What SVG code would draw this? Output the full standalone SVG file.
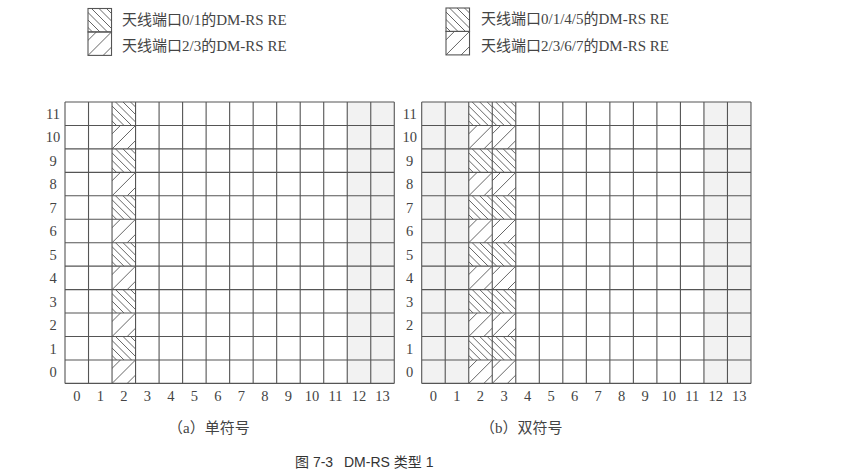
<svg xmlns="http://www.w3.org/2000/svg" xmlns:xlink="http://www.w3.org/1999/xlink" width="845" height="476" viewBox="0 0 845 476">
<style>
.grid{fill:none;stroke:#555;stroke-width:1.1}
.h{stroke:#555;stroke-width:0.9;fill:none}
.shade{fill:#f2f2f2}
.t{font-family:"Liberation Serif","Noto Sans CJK SC",serif;fill:#444}
.num{font-size:14.5px;text-anchor:middle}
.leg{font-size:15px}
.cap{font-family:"Liberation Sans","Noto Sans CJK SC",sans-serif;font-size:14px;fill:#333}
</style>
<defs>
<symbol id="p01" viewBox="0 0 23.52 23.45" width="23.52" height="23.45">
<path class="h" d="M-24,-5L11,30M-16.5,-5L18.5,30M-9,-5L26,30M-1.5,-5L33.5,30M6,-5L41,30M13.5,-5L48.5,30"/>
</symbol>
<symbol id="p23" viewBox="0 0 23.52 23.45" width="23.52" height="23.45">
<path class="h" d="M13.4,-5L-21.6,30M28.5,-5L-6.5,30M43.6,-5L8.6,30"/>
</symbol>
<path id="gridlines" class="grid" d="M0,0V281.4M23.52,0V281.4M47.04,0V281.4M70.56,0V281.4M94.08,0V281.4M117.6,0V281.4M141.12,0V281.4M164.64,0V281.4M188.16,0V281.4M211.68,0V281.4M235.2,0V281.4M258.72,0V281.4M282.24,0V281.4M305.76,0V281.4M329.28,0V281.4M0,0H329.28M0,23.45H329.28M0,46.9H329.28M0,70.35H329.28M0,93.8H329.28M0,117.25H329.28M0,140.7H329.28M0,164.15H329.28M0,187.6H329.28M0,211.05H329.28M0,234.5H329.28M0,257.95H329.28M0,281.4H329.28"/>
<g id="rowlabels" class="t num">
<text x="-12" y="17">11</text><text x="-12" y="40.45">10</text><text x="-12" y="63.9">9</text><text x="-12" y="87.35">8</text><text x="-12" y="110.8">7</text><text x="-12" y="134.25">6</text><text x="-12" y="157.7">5</text><text x="-12" y="181.15">4</text><text x="-12" y="204.6">3</text><text x="-12" y="228.05">2</text><text x="-12" y="251.5">1</text><text x="-12" y="274.95">0</text>
</g>
<g id="collabels" class="t num">
<text x="11.76" y="299">0</text><text x="35.28" y="299">1</text><text x="58.8" y="299">2</text><text x="82.32" y="299">3</text><text x="105.84" y="299">4</text><text x="129.36" y="299">5</text><text x="152.88" y="299">6</text><text x="176.4" y="299">7</text><text x="199.92" y="299">8</text><text x="223.44" y="299">9</text><text x="246.96" y="299">10</text><text x="270.48" y="299">11</text><text x="294" y="299">12</text><text x="317.52" y="299">13</text>
</g>
</defs>

<g id="legend-a">
<use xlink:href="#p01" href="#p01" x="88" y="8.5"/>
<use xlink:href="#p23" href="#p23" x="88" y="31.95"/>
<rect class="grid" x="88" y="8.5" width="23.52" height="23.45"/>
<rect class="grid" x="88" y="31.95" width="23.52" height="23.45"/>
<text class="t leg" x="122" y="24.5">天线端口0/1的DM-RS RE</text>
<text class="t leg" x="122" y="51">天线端口2/3的DM-RS RE</text>
</g>

<g id="legend-b">
<use xlink:href="#p01" href="#p01" x="446" y="8"/>
<use xlink:href="#p23" href="#p23" x="446" y="31.45"/>
<rect class="grid" x="446" y="8" width="23.52" height="23.45"/>
<rect class="grid" x="446" y="31.45" width="23.52" height="23.45"/>
<text class="t leg" x="481" y="24">天线端口0/1/4/5的DM-RS RE</text>
<text class="t leg" x="481" y="50.5">天线端口2/3/6/7的DM-RS RE</text>
</g>

<g id="grid-a" transform="translate(65,102)">
<rect class="shade" x="282.24" y="0" width="47.04" height="281.4"/>
<use href="#p01" xlink:href="#p01" x="47.04" y="0"/>
<use href="#p23" xlink:href="#p23" x="47.04" y="23.45"/>
<use href="#p01" xlink:href="#p01" x="47.04" y="46.9"/>
<use href="#p23" xlink:href="#p23" x="47.04" y="70.35"/>
<use href="#p01" xlink:href="#p01" x="47.04" y="93.8"/>
<use href="#p23" xlink:href="#p23" x="47.04" y="117.25"/>
<use href="#p01" xlink:href="#p01" x="47.04" y="140.7"/>
<use href="#p23" xlink:href="#p23" x="47.04" y="164.15"/>
<use href="#p01" xlink:href="#p01" x="47.04" y="187.6"/>
<use href="#p23" xlink:href="#p23" x="47.04" y="211.05"/>
<use href="#p01" xlink:href="#p01" x="47.04" y="234.5"/>
<use href="#p23" xlink:href="#p23" x="47.04" y="257.95"/>
<use href="#gridlines" xlink:href="#gridlines"/>
<use href="#rowlabels" xlink:href="#rowlabels"/>
<use href="#collabels" xlink:href="#collabels"/>
</g>

<g id="grid-b" transform="translate(421.7,102)">
<rect class="shade" x="0" y="0" width="47.04" height="281.4"/>
<rect class="shade" x="282.24" y="0" width="47.04" height="281.4"/>
<use href="#p01" xlink:href="#p01" x="47.04" y="0"/>
<use href="#p23" xlink:href="#p23" x="47.04" y="23.45"/>
<use href="#p01" xlink:href="#p01" x="47.04" y="46.9"/>
<use href="#p23" xlink:href="#p23" x="47.04" y="70.35"/>
<use href="#p01" xlink:href="#p01" x="47.04" y="93.8"/>
<use href="#p23" xlink:href="#p23" x="47.04" y="117.25"/>
<use href="#p01" xlink:href="#p01" x="47.04" y="140.7"/>
<use href="#p23" xlink:href="#p23" x="47.04" y="164.15"/>
<use href="#p01" xlink:href="#p01" x="47.04" y="187.6"/>
<use href="#p23" xlink:href="#p23" x="47.04" y="211.05"/>
<use href="#p01" xlink:href="#p01" x="47.04" y="234.5"/>
<use href="#p23" xlink:href="#p23" x="47.04" y="257.95"/>
<use href="#p01" xlink:href="#p01" x="70.56" y="0"/>
<use href="#p23" xlink:href="#p23" x="70.56" y="23.45"/>
<use href="#p01" xlink:href="#p01" x="70.56" y="46.9"/>
<use href="#p23" xlink:href="#p23" x="70.56" y="70.35"/>
<use href="#p01" xlink:href="#p01" x="70.56" y="93.8"/>
<use href="#p23" xlink:href="#p23" x="70.56" y="117.25"/>
<use href="#p01" xlink:href="#p01" x="70.56" y="140.7"/>
<use href="#p23" xlink:href="#p23" x="70.56" y="164.15"/>
<use href="#p01" xlink:href="#p01" x="70.56" y="187.6"/>
<use href="#p23" xlink:href="#p23" x="70.56" y="211.05"/>
<use href="#p01" xlink:href="#p01" x="70.56" y="234.5"/>
<use href="#p23" xlink:href="#p23" x="70.56" y="257.95"/>
<use href="#gridlines" xlink:href="#gridlines"/>
<use href="#rowlabels" xlink:href="#rowlabels"/>
<use href="#collabels" xlink:href="#collabels"/>
</g>

<g id="captions">
<text class="t leg" x="168" y="433">（a）单符号</text>
<text class="t leg" x="480" y="433">（b）双符号</text>
<text class="cap" y="467"><tspan x="295">图 7-3</tspan><tspan x="344">DM-RS 类型 1</tspan></text>
</g>
</svg>
